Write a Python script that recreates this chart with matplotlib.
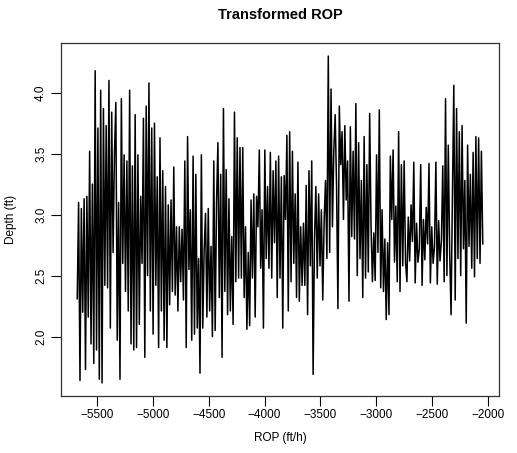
import matplotlib
matplotlib.use("Agg")
import matplotlib.pyplot as plt
import numpy as np

plt.rcParams['font.family'] = ['Liberation Sans', 'DejaVu Sans']

# depth range (shown on the x axis as negative values)
x_start = -5679
x_end = -2045

# transformed ROP left to right
c1 = [2.31, 3.10, 1.64, 3.05, 2.20, 3.13, 1.73, 3.15, 2.16, 3.52, 1.94, 3.25, 1.78, 4.18,
      1.89, 3.71, 1.65, 4.02, 1.62, 3.87, 2.42, 3.73, 2.40, 4.10, 2.07, 3.84, 2.69, 3.50,
      3.92, 1.97, 3.10, 1.65, 3.95, 2.60, 3.49, 2.37, 3.44, 2.21]
c2 = [4.02, 1.94, 3.40, 1.89, 3.82, 1.91, 3.49, 2.10, 3.15, 2.60, 3.79, 1.83, 3.89, 2.50,
      4.08, 2.21, 3.71, 2.02, 3.75, 2.42, 3.31, 1.91, 3.63, 2.21, 3.36, 1.97, 3.23, 1.91,
      3.08, 2.26, 3.12, 2.37, 3.39, 2.34, 2.90, 2.21, 2.90, 2.45, 2.88, 2.30]
c3 = [3.44, 1.91, 3.64, 2.55, 3.04, 1.97, 3.48, 2.02, 3.33, 2.07, 2.64, 1.70, 3.49, 2.07,
      2.70, 3.01, 2.16, 3.05, 2.21, 2.74, 2.00, 3.44, 2.05, 3.10, 3.59, 2.32, 3.33, 1.83,
      3.87, 2.37, 3.37, 2.18, 3.13, 2.21, 2.82, 2.10, 3.84, 2.45, 3.63, 2.48]
c4 = [3.55, 2.48, 3.55, 2.32, 2.90, 2.06, 2.69, 2.09, 3.12, 2.48, 3.17, 2.16, 3.15, 2.90,
      3.53, 2.56, 3.04, 2.07, 3.53, 2.64, 3.23, 2.56, 3.51, 2.48, 3.36, 2.77, 3.44, 2.32,
      3.48, 2.48, 3.31, 2.07, 3.32, 2.96, 3.65, 2.21, 3.68, 2.45, 3.52, 2.60]
c5 = [3.17, 2.32, 3.43, 2.29, 2.90, 2.42, 2.93, 2.42, 3.24, 2.18, 3.36, 2.58, 3.44,
      1.69,
      2.80, 3.23, 2.48, 3.17, 2.58, 3.04, 2.30, 2.95, 3.28, 2.64,
      4.30,
      2.69, 4.03, 2.90, 3.52, 3.82, 3.23, 2.23, 3.89, 3.41, 3.68, 2.96, 3.73, 3.12, 3.44,
      2.29, 3.72]
c6 = [2.82, 3.52, 2.80, 3.91, 2.50, 3.59, 2.64, 3.28, 2.32, 3.64, 2.48, 3.41, 2.53, 3.83,
      2.90, 2.45, 2.85, 2.46, 3.49, 2.69, 3.86, 2.40, 3.04, 2.37, 2.80, 2.14, 2.77, 2.18,
      3.48, 2.96, 3.53, 2.61, 3.07, 2.45, 3.68, 2.37, 3.41, 2.58, 3.44, 2.61]
c7 = [2.45, 2.98, 2.62, 3.08, 2.78,
      3.43, 2.44, 2.93, 2.61, 2.72,
      3.41, 2.42, 2.96, 2.63, 3.06, 2.76,
      3.42, 2.44, 2.90, 2.60, 2.74,
      3.43, 2.43, 2.95, 2.62, 2.78,
      3.40, 2.45, 3.95, 2.50, 3.57, 2.69]
c8 = [2.18, 3.17, 4.06, 2.30, 3.87, 2.64, 3.68, 2.50, 3.73, 2.72, 3.28, 2.11, 3.57, 2.74,
      3.33, 2.56, 3.51, 2.49, 3.64, 2.64, 3.63, 2.60, 3.52, 2.76]

rop = np.array(c1 + c2 + c3 + c4 + c5 + c6 + c7 + c8)
depth = np.linspace(x_start, x_end, len(rop))

x_ticks = [-5500, -5000, -4500, -4000, -3500, -3000, -2500, -2000]
y_ticks = [2.0, 2.5, 3.0, 3.5, 4.0]

W, H = 517, 453
fig = plt.figure(figsize=(W / 100, H / 100), dpi=100)
ax = fig.add_axes([61 / W, (H - 396) / H, 438 / W, 353 / H])

ax.plot(depth, rop, color='black', linewidth=1.1)

# R style 4% padding
def pad(lo, hi):
    d = (hi - lo) * 0.04
    return lo - d, hi + d

ax.set_xlim(*pad(depth.min(), depth.max()))
ax.set_ylim(*pad(rop.min(), rop.max()))

ax.set_xticks(x_ticks)
ax.set_xticklabels(['\u2212' + str(abs(t)) for t in x_ticks])
ax.set_yticks(y_ticks)
ax.set_yticklabels([f'{t:.1f}' for t in y_ticks], rotation=90, va='center')

ax.tick_params(direction='out', length=7, width=0.8, labelsize=8.5, colors='black')
ax.tick_params(axis='x', pad=2)
ax.tick_params(axis='y', pad=3)
for s in ax.spines.values():
    s.set_linewidth(0.9)
    s.set_color('#333333')

fig.text(280 / W, 1 - 15 / H, 'Transformed ROP', ha='center', va='center',
         fontsize=10.5, fontweight='bold')
fig.text(280 / W, 1 - 438 / H, 'ROP (ft/h)', ha='center', va='center', fontsize=8.5)
fig.text(11 / W, 1 - 219 / H, 'Depth (ft)', ha='center', va='center', fontsize=8.5,
         rotation=90)

fig.savefig('out.png', dpi=100)
